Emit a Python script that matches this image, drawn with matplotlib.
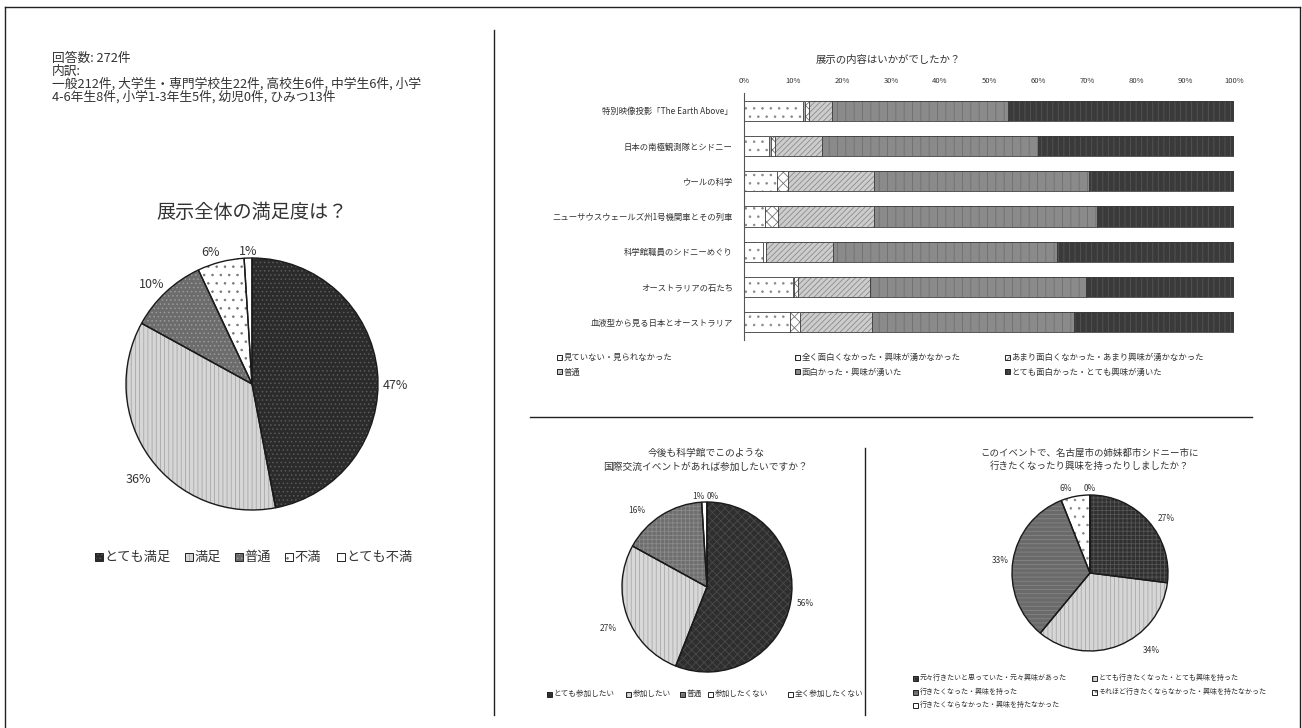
import matplotlib
matplotlib.use('Agg')
import matplotlib.pyplot as plt
import numpy as np
from matplotlib.lines import Line2D
from matplotlib.patches import Rectangle

plt.rcParams['font.family'] = ['Noto Sans CJK JP', 'DejaVu Sans']
plt.rcParams['hatch.linewidth'] = 0.6

W, H = 1302, 728

# --- data ---
info_lines = ['回答数: 272件',
              '内訳:',
              '一般212件, 大学生・専門学校生22件, 高校生6件, 中学生6件, 小学',
              '4-6年生8件, 小学1-3年生5件, 幼児0件, ひみつ13件']

sat_title = '展示全体の満足度は？'
sat_labels = ['とても満足', '満足', '普通', '不満', 'とても不満']
sat_values = [47, 36, 10, 6, 1]

bar_title = '展示の内容はいかがでしたか？'
exhibits = ['特別映像投影「The Earth Above」',
            '日本の南極観測隊とシドニー',
            'ウールの科学',
            'ニューサウスウェールズ州1号機関車とその列車',
            '科学館職員のシドニーめぐり',
            'オーストラリアの石たち',
            '血液型から見る日本とオーストラリア']
rating_labels = ['見ていない・見られなかった',
                 '全く面白くなかった・興味が湧かなかった',
                 'あまり面白くなかった・あまり興味が湧かなかった',
                 '普通',
                 '面白かった・興味が湧いた',
                 'とても面白かった・とても興味が湧いた']
# percent per exhibit (row) and rating (column)
rating_values = np.array([
    [12.1, 0.4, 0.8, 4.6, 35.9, 46.2],
    [5.1, 0.4, 0.8, 9.6, 44.0, 40.1],
    [6.7, 0.0, 2.2, 17.6, 44.0, 29.5],
    [4.3, 0.0, 2.7, 19.5, 45.6, 27.9],
    [3.9, 0.6, 0.0, 13.7, 45.6, 36.2],
    [9.9, 0.4, 0.8, 14.6, 44.0, 30.3],
    [9.3, 0.0, 2.1, 14.8, 41.1, 32.7],
])
bar_ticks = list(range(0, 101, 10))

again_title = '今後も科学館でこのような\n国際交流イベントがあれば参加したいですか？'
again_labels = ['とても参加したい', '参加したい', '普通', '参加したくない', '全く参加したくない']
again_values = [56, 27, 16, 1, 0]

sydney_title = 'このイベントで、名古屋市の姉妹都市シドニー市に\n行きたくなったり興味を持ったりしましたか？'
sydney_labels = ['元々行きたいと思っていた・元々興味があった',
                 'とても行きたくなった・とても興味を持った',
                 '行きたくなった・興味を持った',
                 'それほど行きたくならなかった・興味を持たなかった',
                 '行きたくならなかった・興味を持たなかった']
sydney_values = [27, 34, 33, 6, 0]

TXT = '#333333'

fig = plt.figure(figsize=(W / 100, H / 100), dpi=100)


def px_box(x0, y0, x1, y1):
    return [x0 / W, 1 - y1 / H, (x1 - x0) / W, (y1 - y0) / H]


def fig_line(x0, y0, x1, y1, color='#222222', lw=1.0):
    fig.add_artist(Line2D([x0 / W, x1 / W], [1 - y0 / H, 1 - y1 / H], color=color, lw=lw))


def fig_text(x, y, s, **kw):
    return fig.text(x / W, 1 - y / H, s, **kw)


def legend_entry(x, y, size, label, face, hatch, hcolor, fontsize):
    box = (x / W, 1 - (y + size / 2) / H)
    fig.add_artist(Rectangle(box, size / W, size / H, facecolor=face,
                             hatch=hatch, edgecolor=hcolor, lw=0))
    fig.add_artist(Rectangle(box, size / W, size / H, facecolor='none',
                             edgecolor='#222222', lw=0.7))
    fig_text(x + size + 1.5, y, label, fontsize=fontsize, va='center', ha='left', color=TXT)


def draw_pie(box, values, faces, hatches, hcolors, dists, shifts, fontsize, aligns=None):
    ax = fig.add_axes(px_box(*box))
    wedges, _, autotexts = ax.pie(values, colors=faces, hatch=hatches, startangle=90,
                                  counterclock=False, autopct='%1.0f%%',
                                  textprops=dict(fontsize=fontsize, color=TXT),
                                  wedgeprops=dict(linewidth=0))
    for w, hc in zip(wedges, hcolors):
        w.set_edgecolor(hc)
    # outlines on top of the hatched fills
    ax.pie(values, colors=['none'] * len(values), startangle=90, counterclock=False,
           wedgeprops=dict(edgecolor='#1a1a1a', linewidth=1.0))
    # label placement: distance from centre and a small angular nudge (clockwise, degrees)
    for i, (t, w) in enumerate(zip(autotexts, wedges)):
        a = np.deg2rad((w.theta1 + w.theta2) / 2 - shifts[i])
        t.set_position((dists[i] * np.cos(a), dists[i] * np.sin(a)))
        if aligns is not None:
            t.set_ha(aligns[i])
    ax.set_xlim(-1, 1)
    ax.set_ylim(-1, 1)
    return ax


# --- frame and dividers ---
fig_line(5, 7, 1300, 7)
fig_line(5, 7, 5, 728)
fig_line(1300, 7, 1300, 728)
fig_line(494, 30, 494, 715)
fig_line(530, 417, 1252, 417)
fig_line(865, 448, 865, 715)

# --- info text ---
for i, line in enumerate(info_lines):
    fig_text(52, 58 + i * 13, line, fontsize=9.2, va='center', ha='left', color=TXT)

# --- pie 1 ---
sat_faces = ['#2b2b2b', '#d6d6d6', '#6c6c6c', '#ffffff', '#ffffff']
sat_hatch = ['....', '||||', '....', '..', None]
sat_hcol = ['#5a5a5a', '#a8a8a8', '#9a9a9a', '#777777', '#ffffff']
fig_text(252, 212, sat_title, fontsize=13.8, ha='center', va='center', color=TXT)
draw_pie((126, 258, 378, 510), sat_values, sat_faces, sat_hatch, sat_hcol,
         [1.14, 1.18, 1.12, 1.09, 1.05], [6, -4, -2, -3, 0], 9)
for lab, x, f, h, hc in zip(sat_labels, [95, 185, 235, 285, 337], sat_faces, sat_hatch, sat_hcol):
    legend_entry(x, 557, 8, lab, f, h, hc, 9.5)

# --- stacked bars ---
bar_faces = ['#ffffff', '#ffffff', '#ffffff', '#cdcdcd', '#8a8a8a', '#3a3a3a']
bar_hatch = ['..', '||', 'xxx', '//////', '||', '|||']
bar_hcol = ['#8a8a8a', '#777777', '#777777', '#8c8c8c', '#6f6f6f', '#555555']
fig_text(888, 60, bar_title, fontsize=7.5, ha='center', va='center', color=TXT)
ax = fig.add_axes(px_box(744, 93, 1234, 340))
ypos = np.arange(len(exhibits))
left = np.zeros(len(exhibits))
for j in range(len(rating_labels)):
    vals = rating_values[:, j]
    ax.barh(ypos, vals, left=left, height=0.57, color=bar_faces[j], hatch=bar_hatch[j],
            edgecolor=bar_hcol[j], linewidth=0)
    ax.barh(ypos, vals, left=left, height=0.57, color='none', edgecolor='#3a3a3a', linewidth=0.6)
    left += vals
ax.set_xlim(0, 100)
ax.set_ylim(len(exhibits) - 0.5, -0.5)
ax.xaxis.tick_top()
ax.set_xticks(bar_ticks, [f'{v}%' for v in bar_ticks])
ax.set_yticks(ypos, exhibits)
ax.tick_params(axis='x', length=0, labelsize=5.5, pad=6, colors=TXT)
ax.tick_params(axis='y', length=0, labelsize=6, pad=8, colors=TXT)
for s in ['top', 'right', 'bottom']:
    ax.spines[s].set_visible(False)
ax.spines['left'].set_color('#555555')
ax.set_facecolor('none')

leg_pos = [(557, 357), (795, 357), (1005, 357), (557, 372), (795, 372), (1005, 372)]
for lab, (x, y), f, h, hc in zip(rating_labels, leg_pos, bar_faces, bar_hatch, bar_hcol):
    legend_entry(x, y, 5, lab, f, h, hc, 6)

# --- pie 2 ---
again_faces = ['#2e2e2e', '#d8d8d8', '#6e6e6e', '#ffffff', '#ffffff']
again_hatch = ['xxxx', '||||', '++++', None, None]
again_hcol = ['#4a4a4a', '#aaaaaa', '#8a8a8a', '#ffffff', '#ffffff']
fig_text(706, 459.5, again_title, fontsize=7, ha='center', va='center', color=TXT, linespacing=1.5)
draw_pie((622, 502, 792, 672), again_values, again_faces, again_hatch, again_hcol,
         [1.17, 1.26, 1.22, 1.07, 1.07], [-1, -3, -10, 0, 0], 6,
         aligns=['center', 'center', 'center', 'right', 'left'])
for lab, x, f, h, hc in zip(again_labels, [547, 626, 680, 708, 788], again_faces, again_hatch, again_hcol):
    legend_entry(x, 694, 5, lab, f, h, hc, 5.5)

# --- pie 3 ---
syd_faces = ['#303030', '#d6d6d6', '#6a6a6a', '#ffffff', '#ffffff']
syd_hatch = ['++++', '||||', '----', '..', None]
syd_hcol = ['#555555', '#aaaaaa', '#858585', '#888888', '#ffffff']
fig_text(1090, 459.5, sydney_title, fontsize=6.8, ha='center', va='center', color=TXT, linespacing=1.5)
draw_pie((1012, 495, 1168, 651), sydney_values, syd_faces, syd_hatch, syd_hcol,
         [1.2, 1.27, 1.16, 1.12, 1.08], [6, -17, -1, -5, 0], 6)
syd_pos = [(913, 678), (1092, 678), (913, 692), (1092, 692), (913, 705)]
for lab, (x, y), f, h, hc in zip(sydney_labels, syd_pos, syd_faces, syd_hatch, syd_hcol):
    legend_entry(x, y, 5, lab, f, h, hc, 5)

fig.savefig('out.png', dpi=100)
